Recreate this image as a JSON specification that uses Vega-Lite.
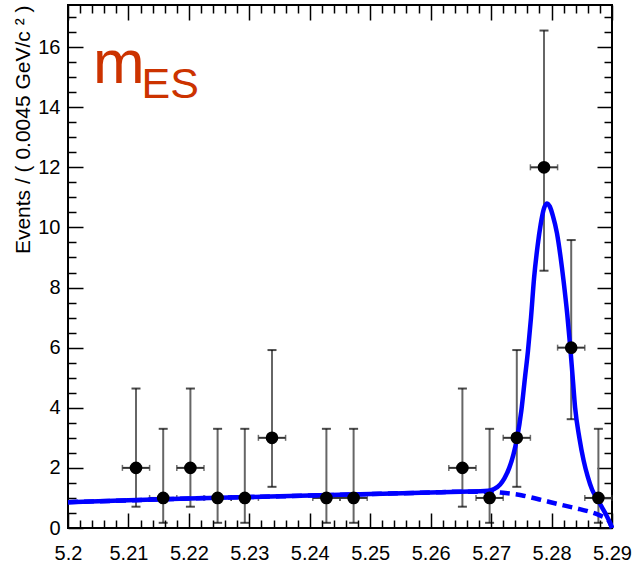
{
  "$schema": "https://vega.github.io/schema/vega-lite/v6.json",
  "width": 544,
  "height": 523,
  "autosize": "none",
  "padding": {"left": 68, "top": 5, "right": 20, "bottom": 35},
  "background": "white",
  "config": {
    "view": {"stroke": "black", "strokeWidth": 2},
    "axis": {
      "domain": false,
      "grid": false,
      "tickColor": "black",
      "tickWidth": 1.5,
      "labelColor": "black",
      "labelFont": "Liberation Sans",
      "labelFontSize": 20,
      "labelOverlap": false,
      "labelFlush": false,
      "titleFont": "Liberation Sans",
      "titleFontSize": 21,
      "titleFontWeight": "normal",
      "titleColor": "black"
    }
  },
  "datasets": {
    "bins": [
      {"x": 5.21125, "n": 2, "lo": 0.709, "hi": 4.64, "xlo": 5.209, "xhi": 5.2135},
      {"x": 5.21575, "n": 1, "lo": 0.173, "hi": 3.30, "xlo": 5.2135, "xhi": 5.218},
      {"x": 5.22025, "n": 2, "lo": 0.709, "hi": 4.64, "xlo": 5.218, "xhi": 5.2225},
      {"x": 5.22475, "n": 1, "lo": 0.173, "hi": 3.30, "xlo": 5.2225, "xhi": 5.227},
      {"x": 5.22925, "n": 1, "lo": 0.173, "hi": 3.30, "xlo": 5.227, "xhi": 5.2315},
      {"x": 5.23375, "n": 3, "lo": 1.37, "hi": 5.92, "xlo": 5.2315, "xhi": 5.236},
      {"x": 5.24275, "n": 1, "lo": 0.173, "hi": 3.30, "xlo": 5.2405, "xhi": 5.245},
      {"x": 5.24725, "n": 1, "lo": 0.173, "hi": 3.30, "xlo": 5.245, "xhi": 5.2495},
      {"x": 5.26525, "n": 2, "lo": 0.709, "hi": 4.64, "xlo": 5.263, "xhi": 5.2675},
      {"x": 5.26975, "n": 1, "lo": 0.173, "hi": 3.30, "xlo": 5.2675, "xhi": 5.272},
      {"x": 5.27425, "n": 3, "lo": 1.37, "hi": 5.92, "xlo": 5.272, "xhi": 5.2765},
      {"x": 5.27875, "n": 12, "lo": 8.56, "hi": 16.55, "xlo": 5.2765, "xhi": 5.281},
      {"x": 5.28325, "n": 6, "lo": 3.62, "hi": 9.58, "xlo": 5.281, "xhi": 5.2855},
      {"x": 5.28775, "n": 1, "lo": 0.173, "hi": 3.30, "xlo": 5.2855, "xhi": 5.29}
    ],
    "fit": [
      {"m": 5.200, "f": 0.86}, {"m": 5.210, "f": 0.92}, {"m": 5.220, "f": 0.98},
      {"m": 5.230, "f": 1.03}, {"m": 5.240, "f": 1.08}, {"m": 5.250, "f": 1.13},
      {"m": 5.260, "f": 1.18}, {"m": 5.265, "f": 1.21}, {"m": 5.2695, "f": 1.24},
      {"m": 5.2705, "f": 1.30}, {"m": 5.2715, "f": 1.45}, {"m": 5.2722, "f": 1.65},
      {"m": 5.2730, "f": 2.0}, {"m": 5.2737, "f": 2.45}, {"m": 5.2743, "f": 3.0},
      {"m": 5.2750, "f": 3.9}, {"m": 5.2756, "f": 5.0}, {"m": 5.2761, "f": 5.9},
      {"m": 5.2766, "f": 7.0}, {"m": 5.2771, "f": 8.3}, {"m": 5.2777, "f": 9.4},
      {"m": 5.2782, "f": 10.1}, {"m": 5.2787, "f": 10.6}, {"m": 5.2792, "f": 10.8},
      {"m": 5.2797, "f": 10.7}, {"m": 5.2802, "f": 10.4}, {"m": 5.2809, "f": 9.8},
      {"m": 5.2815, "f": 9.0}, {"m": 5.2820, "f": 8.2}, {"m": 5.2826, "f": 7.1},
      {"m": 5.2831, "f": 6.0}, {"m": 5.2835, "f": 5.0}, {"m": 5.2839, "f": 4.0},
      {"m": 5.2846, "f": 3.0}, {"m": 5.2853, "f": 2.25}, {"m": 5.2860, "f": 1.7},
      {"m": 5.2867, "f": 1.28}, {"m": 5.2875, "f": 0.98}, {"m": 5.2883, "f": 0.70},
      {"m": 5.2890, "f": 0.45}, {"m": 5.2896, "f": 0.2}, {"m": 5.2900, "f": 0.0}
    ],
    "bkg": [
      {"m": 5.200, "b": 0.86}, {"m": 5.210, "b": 0.92}, {"m": 5.220, "b": 0.98},
      {"m": 5.230, "b": 1.03}, {"m": 5.240, "b": 1.08}, {"m": 5.250, "b": 1.13},
      {"m": 5.260, "b": 1.18}, {"m": 5.265, "b": 1.21}, {"m": 5.2695, "b": 1.21},
      {"m": 5.272, "b": 1.17}, {"m": 5.275, "b": 1.09}, {"m": 5.278, "b": 0.95},
      {"m": 5.281, "b": 0.80}, {"m": 5.284, "b": 0.66}, {"m": 5.2865, "b": 0.53},
      {"m": 5.288, "b": 0.42}, {"m": 5.289, "b": 0.32}, {"m": 5.2896, "b": 0.2},
      {"m": 5.290, "b": 0.0}
    ],
    "label": [{"main": "m", "sub": "ES"}]
  },
  "layer": [
    {
      "layer": [
        {
          "data": {"name": "bins"},
          "mark": {"type": "rule", "color": "#666666", "strokeWidth": 2},
          "encoding": {
            "x": {
              "field": "x", "type": "quantitative",
              "scale": {"domain": [5.2, 5.29], "nice": false, "zero": false},
              "axis": {
                "orient": "bottom",
                "title": null,
                "values": [5.2, 5.21, 5.22, 5.23, 5.24, 5.25, 5.26, 5.27, 5.28, 5.29],
                "labelExpr": "format(datum.value, '.2~f')",
                "tickSize": -15,
                "labelPadding": 30,
                "labelFlush": false,
                "labelOverlap": false
              }
            },
            "y": {
              "field": "lo", "type": "quantitative",
              "scale": {"domain": [0, 17.4], "nice": false, "zero": false},
              "axis": {
                "orient": "left",
                "title": "Events / ( 0.0045 GeV/c ² )",
                "titleAnchor": "end",
                "titlePadding": 4,
                "values": [0, 2, 4, 6, 8, 10, 12, 14, 16],
                "tickSize": -15,
                "labelPadding": 23,
                "labelFlush": false,
                "labelOverlap": false
              }
            },
            "y2": {"field": "hi"}
          }
        },
        {
          "data": {"name": "bins"},
          "mark": {"type": "tick", "orient": "horizontal", "color": "black", "size": 9, "thickness": 2},
          "encoding": {
            "x": {"field": "x", "type": "quantitative"},
            "y": {"field": "hi", "type": "quantitative"}
          }
        },
        {
          "data": {"name": "bins"},
          "mark": {"type": "tick", "orient": "horizontal", "color": "black", "size": 9, "thickness": 2},
          "encoding": {
            "x": {"field": "x", "type": "quantitative"},
            "y": {"field": "lo", "type": "quantitative"}
          }
        },
        {
          "data": {"name": "bins"},
          "mark": {"type": "rule", "color": "#333333", "strokeWidth": 2},
          "encoding": {
            "x": {"field": "xlo", "type": "quantitative"},
            "x2": {"field": "xhi"},
            "y": {"field": "n", "type": "quantitative"}
          }
        },
        {
          "data": {"name": "bins"},
          "mark": {"type": "tick", "orient": "vertical", "color": "#333333", "size": 6, "thickness": 1.5},
          "encoding": {
            "x": {"field": "xlo", "type": "quantitative"},
            "y": {"field": "n", "type": "quantitative"}
          }
        },
        {
          "data": {"name": "bins"},
          "mark": {"type": "tick", "orient": "vertical", "color": "#333333", "size": 6, "thickness": 1.5},
          "encoding": {
            "x": {"field": "xhi", "type": "quantitative"},
            "y": {"field": "n", "type": "quantitative"}
          }
        }
      ]
    },
    {
      "data": {"name": "bkg"},
      "mark": {"type": "line", "color": "#0000ff", "strokeWidth": 4.5, "strokeDash": [10, 6], "interpolate": "monotone"},
      "encoding": {
        "x": {
          "field": "m", "type": "quantitative",
          "axis": {
            "orient": "top",
            "title": null,
            "labels": false,
            "values": [5.2, 5.202, 5.204, 5.206, 5.208, 5.21, 5.212, 5.214, 5.216, 5.218, 5.22, 5.222, 5.224, 5.226, 5.228, 5.23, 5.232, 5.234, 5.236, 5.238, 5.24, 5.242, 5.244, 5.246, 5.248, 5.25, 5.252, 5.254, 5.256, 5.258, 5.26, 5.262, 5.264, 5.266, 5.268, 5.27, 5.272, 5.274, 5.276, 5.278, 5.28, 5.282, 5.284, 5.286, 5.288, 5.29],
            "tickSize": {"condition": {"test": "abs(datum.value * 100 - round(datum.value * 100)) < 0.001", "value": -15}, "value": -8}
          }
        },
        "y": {
          "field": "b", "type": "quantitative",
          "axis": {
            "orient": "right",
            "title": null,
            "labels": false,
            "values": [0, 0.5, 1, 1.5, 2, 2.5, 3, 3.5, 4, 4.5, 5, 5.5, 6, 6.5, 7, 7.5, 8, 8.5, 9, 9.5, 10, 10.5, 11, 11.5, 12, 12.5, 13, 13.5, 14, 14.5, 15, 15.5, 16, 16.5, 17],
            "tickSize": {"condition": {"test": "datum.value % 2 === 0", "value": -15}, "value": -8}
          }
        }
      }
    },
    {
      "data": {"name": "fit"},
      "mark": {"type": "line", "color": "#0000ff", "strokeWidth": 4.5, "interpolate": "monotone"},
      "encoding": {
        "x": {
          "field": "m", "type": "quantitative",
          "axis": {
            "orient": "bottom",
            "title": null,
            "labels": false,
            "values": [5.202, 5.204, 5.206, 5.208, 5.212, 5.214, 5.216, 5.218, 5.222, 5.224, 5.226, 5.228, 5.232, 5.234, 5.236, 5.238, 5.242, 5.244, 5.246, 5.248, 5.252, 5.254, 5.256, 5.258, 5.262, 5.264, 5.266, 5.268, 5.272, 5.274, 5.276, 5.278, 5.282, 5.284, 5.286, 5.288],
            "tickSize": -8
          }
        },
        "y": {
          "field": "f", "type": "quantitative",
          "axis": {
            "orient": "left",
            "title": null,
            "labels": false,
            "values": [0.5, 1, 1.5, 2.5, 3, 3.5, 4.5, 5, 5.5, 6.5, 7, 7.5, 8.5, 9, 9.5, 10.5, 11, 11.5, 12.5, 13, 13.5, 14.5, 15, 15.5, 16.5, 17],
            "tickSize": -8
          }
        }
      }
    },
    {
      "layer": [
        {
          "data": {"name": "bins"},
          "mark": {"type": "point", "shape": "circle", "filled": true, "color": "black", "opacity": 1, "size": 160},
          "encoding": {
            "x": {"field": "x", "type": "quantitative", "axis": null},
            "y": {"field": "n", "type": "quantitative", "axis": null}
          }
        },
        {
          "data": {"name": "label"},
          "mark": {"type": "text", "font": "Liberation Sans", "fontSize": 62, "color": "#cc3300", "align": "left", "baseline": "alphabetic"},
          "encoding": {
            "text": {"field": "main"},
            "x": {"datum": 5.20414, "type": "quantitative", "axis": null},
            "y": {"datum": 14.8, "type": "quantitative", "axis": null}
          }
        },
        {
          "data": {"name": "label"},
          "mark": {"type": "text", "font": "Liberation Sans", "fontSize": 43, "color": "#cc3300", "align": "left", "baseline": "alphabetic"},
          "encoding": {
            "text": {"field": "sub"},
            "x": {"datum": 5.21216, "type": "quantitative", "axis": null},
            "y": {"datum": 14.3, "type": "quantitative", "axis": null}
          }
        }
      ]
    }
  ],
  "resolve": {"axis": {"x": "independent", "y": "independent"}}
}
